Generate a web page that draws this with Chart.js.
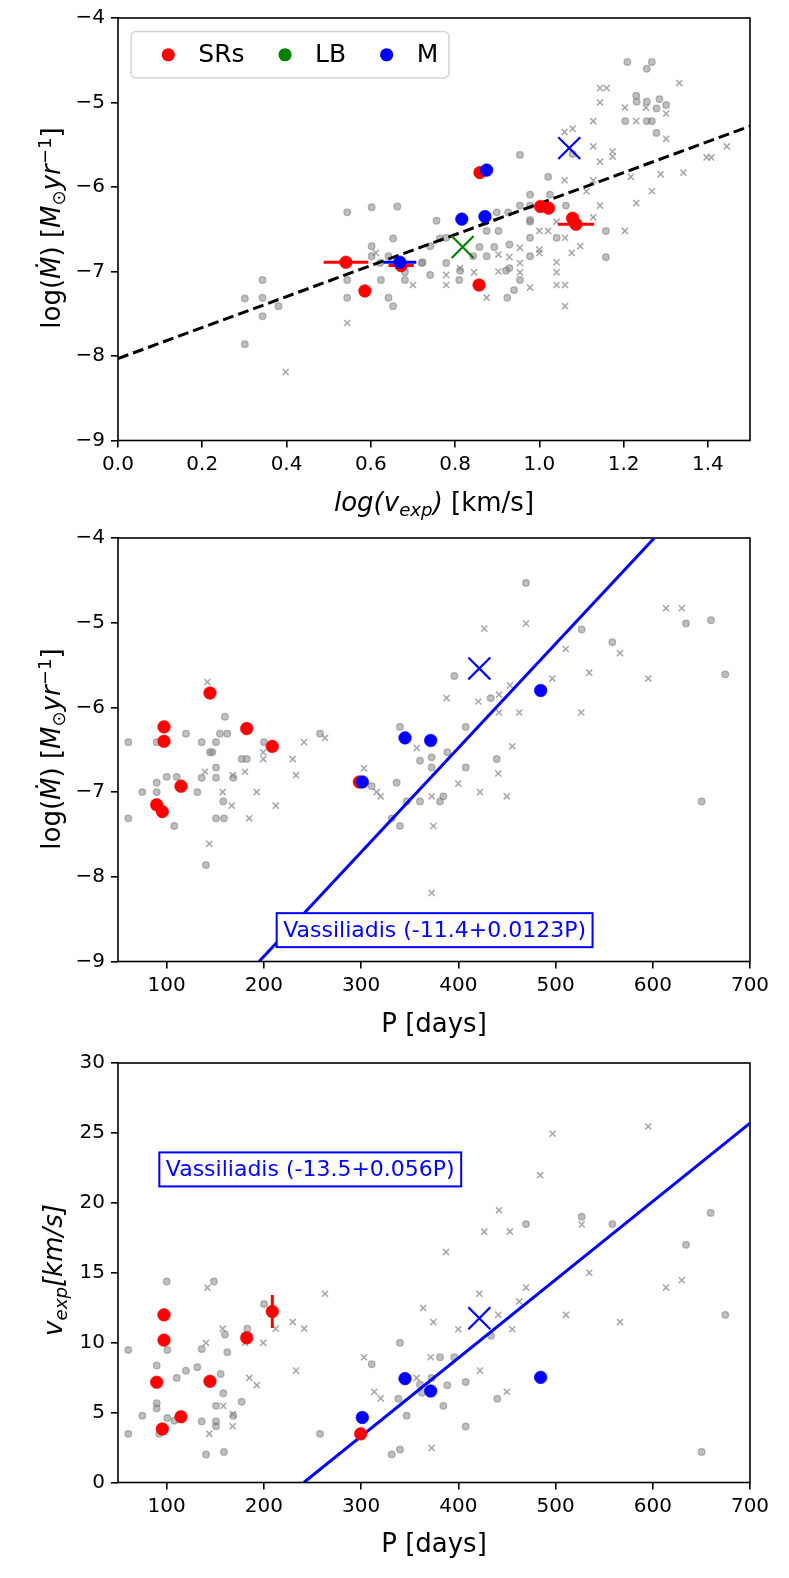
<!DOCTYPE html>
<html>
<head>
<meta charset="utf-8">
<script src="https://cdn.jsdelivr.net/npm/chart.js@4.4.0/dist/chart.umd.min.js"></script>
<style>
  html, body { margin: 0; padding: 0; background: #fff; }
  #wrap { position: relative; width: 789px; height: 1578px; }
  #wrap canvas { position: absolute; left: 0; }
</style>
</head>
<body>
<div id="wrap">
  <canvas id="c1" width="789" height="520" style="top:0px"></canvas>
  <canvas id="c2" width="789" height="525" style="top:520px"></canvas>
  <canvas id="c3" width="789" height="533" style="top:1045px"></canvas>
</div>
<script>
const FONT = '"DejaVu Sans", sans-serif';
const GRAY_FILL = "rgba(128,128,128,0.5)";
const GRAY_EDGE = "rgba(128,128,128,0.55)";
const GRAY_X = "rgba(128,128,128,0.7)";

// ---------- panel 1: log(v_exp) vs log(Mdot) ----------
const p1CircLogV = [0.544,0.602,0.663,0.756,0.653,0.602,0.764,0.779,0.602,0.741,0.642,0.622,0.721,0.779,0.681,0.544,0.624,0.681,0.741,0.343,0.301,0.343,0.381,0.343,0.301,0.544,0.642,0.653,
  0.875,0.903,0.978,0.978,1.041,1.158,1.158,0.858,0.893,0.929,0.875,0.843,0.978,0.723,0.812,0.810,0.921,0.929,0.954,0.940,0.924,
  1.209,1.267,1.255,1.230,1.231,1.255,1.285,1.301,1.278,1.204,1.255,1.267,1.278,0.954,1.079,1.021,0.978,1.025,0.954,0.978,1.063,0.899,0.926,0.978,0.871];
const p1CircLogM = [-6.30,-6.24,-6.23,-6.40,-6.61,-6.70,-6.61,-6.60,-6.82,-6.70,-6.82,-6.90,-6.90,-6.90,-7.01,-7.10,-7.10,-7.10,-7.04,-7.10,-7.32,-7.31,-7.41,-7.53,-7.86,-7.31,-7.31,-7.41,
  -6.52,-6.52,-6.41,-6.60,-6.60,-6.52,-6.83,-6.71,-6.71,-6.68,-6.82,-6.82,-6.82,-6.89,-6.99,-7.10,-6.99,-6.96,-7.10,-7.22,-7.31,
  -4.52,-4.52,-4.60,-4.92,-4.99,-4.99,-4.96,-5.03,-5.07,-5.22,-5.22,-5.22,-5.36,-5.62,-5.61,-5.88,-6.09,-6.09,-6.22,-6.22,-6.22,-6.30,-6.30,-6.39,-6.41];
const p1CrossLogV = [0.612,0.544,0.398,0.700,0.779,0.779,0.845,0.903,0.929,0.954,0.954,0.954,1.000,1.000,1.000,1.021,1.061,1.041,1.041,1.041,1.061,1.061,1.077,1.097,1.203,0.978,0.875,0.903,0.812,
  1.144,1.160,1.144,1.203,1.253,1.301,1.230,1.332,1.128,1.060,1.079,1.301,1.128,1.174,1.174,1.144,1.445,1.397,1.408,1.060,
  1.112,1.128,1.217,1.288,1.342,1.267,1.230,1.144,1.128,1.041];
const p1CrossLogM = [-6.78,-7.61,-8.19,-7.16,-7.04,-7.16,-7.01,-6.80,-6.83,-6.72,-6.90,-7.01,-6.52,-6.74,-6.78,-6.52,-6.60,-6.89,-7.01,-7.16,-7.16,-7.41,-6.78,-6.70,-6.52,-7.19,-7.31,-7.00,-6.96,
  -4.83,-4.83,-5.00,-5.06,-5.06,-5.13,-5.22,-4.77,-5.22,-5.35,-5.31,-5.43,-5.52,-5.58,-5.64,-5.70,-5.52,-5.65,-5.65,-5.92,
  -6.05,-5.92,-5.88,-5.85,-5.83,-6.05,-6.19,-6.22,-6.36,-6.41];
const p1SrLogV = [0.541, 0.586, 0.672, 0.859, 0.857, 1.003, 1.022, 1.079, 1.087];
const p1SrLogM = [-6.89, -7.23, -6.93, -5.83, -7.16, -6.23, -6.25, -6.37, -6.44];
const p1SrErr  = [0.053, 0, 0.030, 0, 0, 0, 0, 0, 0.043];
const p1MLogV = [0.669, 0.816, 0.871, 0.875];
const p1MLogM = [-6.89, -6.38, -6.35, -5.80];
const p1MErr  = [0.039, 0, 0, 0];
const p1LbLogV = [0.818];
const p1LbLogM = [-6.71];
const p1BigXLogV = [1.071];
const p1BigXLogM = [-5.54];
const fitLogV = [0.0, 1.5];
const fitLogM = [-8.03, -5.28];
const p1XTicks = [0.0, 0.2, 0.4, 0.6, 0.8, 1.0, 1.2, 1.4];
const logMTicks = [-9, -8, -7, -6, -5, -4];

// ---------- panel 2: P vs log(Mdot) ----------
const p2CircP = [60.6,89.8,119.9,136.1,150.8,154.9,162.4,160.0,144.6,147.0,177.2,182.4,200.2,257.8,340.0,360.6,372.6,388.7,150.8,469.6,
  526.9,558.4,634.2,659.9,674.6,395.9,433.3,407.6,439.5,407.6,60.6,75.0,89.8,89.8,100.1,110.4,107.9,131.6,136.1,150.8,
  158.3,150.8,159.0,140.5,168.6,336.6,340.0,331.5,360.6,346.9,381.2,384.6,372.6,310.9,650.3];
const p2CircLogM = [-6.41,-6.41,-6.31,-6.41,-6.41,-6.31,-6.31,-6.11,-6.53,-6.53,-6.61,-6.61,-6.41,-6.31,-6.23,-6.63,-6.59,-6.53,-6.71,-4.53,
  -5.08,-5.23,-5.01,-4.97,-5.61,-5.63,-5.89,-6.23,-6.61,-6.71,-7.31,-7.00,-6.89,-7.00,-6.82,-6.82,-7.40,-7.00,-6.83,-6.83,
  -7.11,-7.31,-7.31,-7.86,-6.83,-6.89,-7.40,-7.31,-7.11,-7.11,-7.11,-7.05,-6.71,-6.93,-7.11];
const p2CrossP = [141.9,199.4,199.4,229.7,241.3,262.9,357.2,388.0,303.0,139.5,157.7,166.9,168.0,180.6,185.0,192.7,212.2,233.1,143.9,316.1,
  320.2,372.6,374.3,372.6,613.6,629.8,469.6,426.7,510.5,566.3,595.4,534.7,496.7,420.6,441.9,453.2,441.9,462.7,526.5,455.5,
  441.1,400.0,422.3,449.8];
const p2CrossLogM = [-5.70,-6.53,-6.61,-6.61,-6.41,-6.36,-6.48,-5.89,-6.72,-6.76,-7.00,-7.16,-6.80,-6.76,-7.31,-7.00,-7.16,-6.80,-7.61,-7.00,
  -7.05,-7.05,-7.40,-8.19,-4.83,-4.83,-5.01,-5.07,-5.31,-5.36,-5.66,-5.59,-5.66,-5.93,-5.85,-5.74,-6.06,-6.06,-6.06,-6.46,
  -6.78,-6.90,-7.00,-7.05];
const p2SrP = [97.3, 97.3, 144.6, 182.4, 208.7, 114.8, 89.8, 95.6, 298.2];
const p2SrLogM = [-6.23, -6.40, -5.83, -6.25, -6.46, -6.93, -7.15, -7.23, -6.88];
const p2MP = [301.3, 345.2, 371.6, 484.7];
const p2MLogM = [-6.88, -6.36, -6.39, -5.80];
const p2BigXP = [421.6];
const p2BigXLogM = [-5.54];
const vassP2 = [195.1, 601.6];
const vassLogM = [-9.0, -4.0];
const pTicks = [100, 200, 300, 400, 500, 600, 700];

// ---------- panel 3: P vs v_exp ----------
const p3CircP = [100.1,148.7,200.2,60.6,100.7,89.8,136.1,162.4,160.0,183.0,110.4,119.9,131.6,155.6,158.3,150.8,89.8,89.8,75.0,60.6,
  100.7,107.9,136.1,150.8,150.8,168.6,177.2,140.5,159.0,92.5,257.8,340.0,310.9,338.3,346.9,360.6,362.4,381.2,388.7,384.6,
  331.5,340.0,372.6,469.6,526.9,558.4,659.5,634.2,674.6,650.3,433.6,395.9,407.6,407.6,440.1];
const p3CircV = [14.37,14.37,12.77,9.48,9.48,8.37,9.55,9.31,10.58,11.0,7.48,8.0,8.25,7.76,6.38,5.48,5.67,5.3,4.77,3.48,
  4.61,4.42,4.37,4.37,4.02,4.77,5.78,2.0,2.19,3.48,3.48,9.99,8.46,5.99,4.77,7.01,6.42,8.96,6.96,5.48,
  2.0,2.36,7.48,18.48,19.0,18.48,19.28,17.0,11.99,2.19,10.49,8.96,7.19,4.0,5.99];
const p3CrossP = [141.9,387.3,262.9,595.4,497.0,484.2,441.9,426.7,453.0,526.9,534.7,469.6,613.6,629.8,421.6,229.7,241.6,212.2,199.4,180.6,
  140.5,157.7,233.1,185.0,192.7,158.3,168.0,168.0,143.9,303.0,313.6,320.2,364.0,374.3,371.6,357.2,372.6,462.7,441.1,510.8,
  566.3,400.0,455.5,422.3,449.8];
const p3CrossV = [13.94,16.48,13.5,25.46,24.94,21.98,19.47,17.94,17.94,18.46,15.0,13.94,13.94,14.46,13.5,11.47,11.0,11.0,9.99,9.99,
  9.99,11.0,8.0,7.48,6.96,5.48,4.89,4.02,3.48,8.96,6.49,6.02,12.48,11.47,8.96,7.48,2.47,12.95,11.99,11.99,
  11.47,10.96,10.96,8.0,6.49];
const p3SrP = [97.3, 97.3, 89.8, 144.6, 114.8, 95.6, 182.4, 208.7, 299.6];
const p3SrV = [11.99, 10.18, 7.17, 7.24, 4.70, 3.83, 10.35, 12.23, 3.48];
const p3SrErr = [0, 0, 0, 0, 0, 0, 0, 1.18, 0];
const p3MP = [301.3, 345.2, 371.6, 484.7];
const p3MV = [4.65, 7.43, 6.54, 7.52];
const p3BigXP = [421.6];
const p3BigXV = [11.75];
const vassP3 = [241.1, 700];
const vassV = [0.0, 25.7];
const vTicks = [0, 5, 10, 15, 20, 25, 30];

const LBL = 26;
const pts = (xs, ys) => xs.map((x, i) => ({ x: x, y: ys[i] }));
const minus = v => String(v).replace("-", "\u2212");

// draws text made of pieces: [text, style] where style has i (italic), sub, sup
function drawRich(ctx, parts, x, y, size, vertical) {
  ctx.save();
  ctx.translate(x, y);
  if (vertical) ctx.rotate(-Math.PI / 2);
  const specs = parts.map(([t, st]) => {
    const small = st.includes("sub") || st.includes("sup");
    const s = small ? size * 0.7 : size;
    const font = (st.includes("i") ? "italic " : "") + s + "px " + FONT;
    ctx.font = font;
    const dy = st.includes("sub") ? size * 0.2 : st.includes("sup") ? -size * 0.36 : 0;
    return { t, font, dy, w: ctx.measureText(t).width };
  });
  let cx = -specs.reduce((a, b) => a + b.w, 0) / 2;
  ctx.fillStyle = "#000";
  ctx.textBaseline = "alphabetic";
  specs.forEach(sp => { ctx.font = sp.font; ctx.fillText(sp.t, cx, sp.dy); cx += sp.w; });
  ctx.restore();
}

function textBox(chart, label, xv, yv) {
  const { ctx, scales } = chart;
  const x0 = scales.x.getPixelForValue(xv);
  const yc = scales.y.getPixelForValue(yv);
  ctx.save();
  ctx.font = "22px " + FONT;
  const w = ctx.measureText(label).width + 13, h = 34;
  ctx.fillStyle = "#fff";
  ctx.fillRect(x0, yc - h / 2, w, h);
  ctx.strokeStyle = "#0000ff";
  ctx.lineWidth = 2;
  ctx.strokeRect(x0, yc - h / 2, w, h);
  ctx.fillStyle = "#0000ff";
  ctx.textBaseline = "middle";
  ctx.fillText(label, x0 + 6.5, yc + 1);
  ctx.restore();
}

// box around the axes + error bars
const framePlugin = {
  id: "frame",
  beforeDatasetDraw(chart, args) {
    const ds = chart.data.datasets[args.index];
    if (!ds.errX && !ds.errY) return;
    const { ctx, chartArea: a, scales } = chart;
    ctx.save();
    ctx.beginPath();
    ctx.rect(a.left, a.top, a.right - a.left, a.bottom - a.top);
    ctx.clip();
    ctx.strokeStyle = ds.borderColor;
    ctx.lineWidth = 3;
    ds.data.forEach((p, i) => {
      const ex = ds.errX ? ds.errX[i] : 0, ey = ds.errY ? ds.errY[i] : 0;
      ctx.beginPath();
      if (ex) {
        const y = scales.y.getPixelForValue(p.y);
        ctx.moveTo(scales.x.getPixelForValue(p.x - ex), y);
        ctx.lineTo(scales.x.getPixelForValue(p.x + ex), y);
      }
      if (ey) {
        const x = scales.x.getPixelForValue(p.x);
        ctx.moveTo(x, scales.y.getPixelForValue(p.y - ey));
        ctx.lineTo(x, scales.y.getPixelForValue(p.y + ey));
      }
      ctx.stroke();
    });
    ctx.restore();
  },
  afterDatasetsDraw(chart) {
    const { ctx, chartArea: a } = chart;
    ctx.save();
    ctx.strokeStyle = "#000";
    ctx.lineWidth = 1.6;
    ctx.strokeRect(a.left, a.top, a.right - a.left, a.bottom - a.top);
    ctx.restore();
  }
};

function legendBox(chart) {
  const { ctx, chartArea: a } = chart;
  const order = ["SRs", "LB", "M"];
  const x0 = a.left + 13, y0 = a.top + 13.5, w = 318, h = 46.5;
  ctx.save();
  ctx.fillStyle = "rgba(255,255,255,0.8)";
  ctx.strokeStyle = "#d4d4d4";
  ctx.lineWidth = 1.6;
  ctx.beginPath();
  ctx.roundRect(x0, y0, w, h, 5);
  ctx.fill();
  ctx.stroke();
  ctx.font = "25px " + FONT;
  ctx.textBaseline = "middle";
  let x = x0 + 37.3;
  const yc = y0 + h / 2;
  order.forEach(name => {
    const ds = chart.data.datasets.find(d => d.label === name);
    ctx.fillStyle = ds.legendColor;
    ctx.beginPath();
    ctx.arc(x, yc, 6.6, 0, Math.PI * 2);
    ctx.fill();
    ctx.fillStyle = "#000";
    ctx.fillText(name, x + 30, yc + 1);
    x += 30 + ctx.measureText(name).width + 40.5;
  });
  ctx.restore();
}

function scalesFor(xmin, xmax, xTicks, xFmt, ymin, ymax, yTicks, yFmt, axisH) {
  const grid = { drawOnChartArea: false, drawTicks: true, tickLength: 7, color: "#000", lineWidth: 1.6 };
  const tickFont = { family: FONT, size: 20 };
  return {
    x: {
      type: "linear", position: "bottom", min: xmin, max: xmax,
      border: { display: false }, grid: grid,
      afterBuildTicks: s => { s.ticks = xTicks.map(v => ({ value: v })); },
      afterFit: s => { s.height = axisH; },
      ticks: { color: "#000", font: tickFont, padding: 5, maxRotation: 0, autoSkip: false, callback: xFmt }
    },
    y: {
      type: "linear", position: "left", min: ymin, max: ymax,
      border: { display: false }, grid: grid,
      afterBuildTicks: s => { s.ticks = yTicks.map(v => ({ value: v })); },
      afterFit: s => { s.width = 118; },
      ticks: { color: "#000", font: tickFont, padding: 6, autoSkip: false, callback: yFmt }
    }
  };
}

function grayCircles(data) {
  return { label: "circ", data: data, pointStyle: "circle", pointRadius: 3.3, pointBorderWidth: 1.3,
    backgroundColor: GRAY_FILL, borderColor: GRAY_EDGE };
}
function grayCrosses(data) {
  return { label: "cross", data: data, pointStyle: "crossRot", pointRadius: 4.3, pointBorderWidth: 1.5,
    backgroundColor: GRAY_X, borderColor: GRAY_X };
}
function dots(label, data, color, extra) {
  return Object.assign({ label: label, data: data, pointStyle: "circle", pointRadius: 6.3, pointBorderWidth: 0.6,
    backgroundColor: color, borderColor: color, legendColor: color }, extra || {});
}
function bigX(label, data, color) {
  return { label: label, data: data, pointStyle: "crossRot", pointRadius: 15.5, pointBorderWidth: 2.2,
    backgroundColor: color, borderColor: color, legendColor: color };
}
function fitLine(data, color, dash) {
  return { label: "fit", data: data, showLine: true, pointRadius: 0, borderColor: color, borderWidth: 3,
    borderDash: dash, fill: false };
}

function makeChart(id, padTop, axisH, datasets, scales, extraDraw) {
  return new Chart(document.getElementById(id), {
    type: "scatter",
    data: { datasets: datasets },
    options: {
      responsive: false,
      animation: false,
      layout: { padding: { left: 0, right: 39, top: padTop, bottom: 0 } },
      plugins: { legend: { display: false }, tooltip: { enabled: false } },
      scales: scales
    },
    plugins: [framePlugin, { id: "extra", afterDraw: extraDraw }]
  });
}

// panel 1
makeChart("c1", 15.5, 79.5, [
  bigX("bigX", pts(p1BigXLogV, p1BigXLogM), "#0000ff"),
  bigX("LB", pts(p1LbLogV, p1LbLogM), "#008000"),
  dots("M", pts(p1MLogV, p1MLogM), "#0000ff", { errX: p1MErr }),
  dots("SRs", pts(p1SrLogV, p1SrLogM), "#ff0000", { errX: p1SrErr }),
  fitLine(pts(fitLogV, fitLogM), "#000", [11, 5]),
  grayCrosses(pts(p1CrossLogV, p1CrossLogM)),
  grayCircles(pts(p1CircLogV, p1CircLogM))
], scalesFor(0, 1.5, p1XTicks, v => v.toFixed(1), -9, -4, logMTicks, minus, 79.5), chart => {
  legendBox(chart);
  const ctx = chart.ctx;
  drawRich(ctx, [["log(v", "i"], ["exp", "isub"], [")", "i"], [" [km/s]", "n"]], 434, 511, LBL, false);
  drawRich(ctx, [["log(", "n"], ["\u1E40", "i"], [") [", "n"], ["M", "i"], ["\u2299", "sub"], ["yr", "i"], ["\u22121", "sup"], ["]", "n"]], 60, 228, LBL, true);
});

// panel 2
makeChart("c2", 16, 83.5, [
  bigX("bigX", pts(p2BigXP, p2BigXLogM), "#0000ff"),
  dots("M", pts(p2MP, p2MLogM), "#0000ff"),
  dots("SRs", pts(p2SrP, p2SrLogM), "#ff0000"),
  fitLine(pts(vassP2, vassLogM), "#0000ff", []),
  grayCrosses(pts(p2CrossP, p2CrossLogM)),
  grayCircles(pts(p2CircP, p2CircLogM))
], scalesFor(50, 700, pTicks, v => String(v), -9, -4, logMTicks, minus, 83.5), chart => {
  textBox(chart, "Vassiliadis (-11.4+0.0123P)", 213.2, -8.63);
  const ctx = chart.ctx;
  drawRich(ctx, [["P [days]", "n"]], 434, 512, LBL, false);
  drawRich(ctx, [["log(", "n"], ["\u1E40", "i"], [") [", "n"], ["M", "i"], ["\u2299", "sub"], ["yr", "i"], ["\u22121", "sup"], ["]", "n"]], 60, 229, LBL, true);
});

// panel 3
makeChart("c3", 12.5, 95.5, [
  bigX("bigX", pts(p3BigXP, p3BigXV), "#0000ff"),
  dots("M", pts(p3MP, p3MV), "#0000ff"),
  dots("SRs", pts(p3SrP, p3SrV), "#ff0000", { errY: p3SrErr }),
  fitLine(pts(vassP3, vassV), "#0000ff", []),
  grayCrosses(pts(p3CrossP, p3CrossV)),
  grayCircles(pts(p3CircP, p3CircV))
], scalesFor(50, 700, pTicks, v => String(v), 0, 30, vTicks, v => String(v), 95.5), chart => {
  textBox(chart, "Vassiliadis (-13.5+0.056P)", 92.5, 22.39);
  const ctx = chart.ctx;
  drawRich(ctx, [["P [days]", "n"]], 434, 507, LBL, false);
  drawRich(ctx, [["v", "i"], ["exp", "isub"], ["[km/s]", "i"]], 62, 225, LBL, true);
});
</script>
</body>
</html>
